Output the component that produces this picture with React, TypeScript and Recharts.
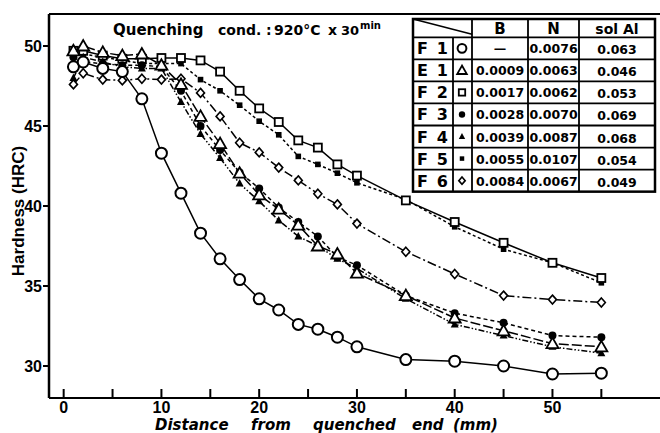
import React from "react";
import { LineChart, Line, XAxis, YAxis, ReferenceLine } from "recharts";

// distance from the quenched end (mm), shared by every steel
const distances = [1, 2, 4, 6, 8, 10, 12, 14, 16, 18, 20, 22, 24, 26, 28, 30, 35, 40, 45, 50, 55];

// hardness (HRC)
const hrcF1 = [48.7, 49.0, 48.6, 48.4, 46.7, 43.3, 40.8, 38.3, 36.7, 35.4, 34.2, 33.5, 32.6, 32.3, 31.8, 31.2, 30.4, 30.3, 30.0, 29.5, 29.55];
const hrcE1 = [49.7, 50.0, 49.6, 49.4, 49.5, 48.8, 47.6, 45.6, 43.9, 42.05, 40.7, 39.8, 38.8, 37.5, 37.0, 35.8, 34.4, 33.0, 32.2, 31.4, 31.2];
const hrcF2 = [49.7, 49.7, 49.4, 49.2, 49.2, 49.25, 49.25, 49.1, 48.4, 47.2, 46.1, 45.25, 44.1, 43.65, 42.6, 41.9, 40.35, 39.0, 37.7, 36.45, 35.5];
const hrcF3 = [49.3, 49.0, 48.9, 48.8, 48.8, 48.7, 47.2, 45.0, 43.5, 42.1, 41.1, 39.9, 39.0, 38.1, 36.8, 36.3, 34.4, 33.3, 32.7, 31.9, 31.8];
const hrcF4 = [48.0, 49.3, 49.0, 48.7, 48.6, 48.6, 46.5, 44.5, 43.0, 41.4, 40.3, 39.1, 38.1, 37.5, 36.7, 36.1, 34.2, 32.6, 31.9, 31.2, 30.8];
const hrcF5 = [49.7, 49.5, 49.3, 49.1, 48.9, 48.9, 48.9, 47.9, 47.2, 46.3, 45.3, 44.45, 43.1, 42.6, 42.05, 41.45, 40.4, 38.7, 37.3, 36.45, 35.2];
const hrcF6 = [47.6, 48.3, 47.9, 47.85, 47.95, 47.9, 47.95, 47.07, 45.6, 43.95, 43.35, 42.4, 41.6, 40.77, 40.1, 38.9, 37.14, 35.75, 34.4, 34.15, 33.97];

// composition table
const steels = ["F 1", "E 1", "F 2", "F 3", "F 4", "F 5", "F 6"];
const boron = ["—", "0.0009", "0.0017", "0.0028", "0.0039", "0.0055", "0.0084"];
const nitrogen = ["0.0076", "0.0063", "0.0062", "0.0070", "0.0087", "0.0107", "0.0067"];
const solAl = ["0.063", "0.046", "0.053", "0.069", "0.068", "0.054", "0.049"];

const xTicks = [0, 5, 10, 15, 20, 25, 30, 35, 40, 45, 50, 55];
const yTicks = [30, 35, 40, 45, 50];

const rows = distances.map((d, i) => ({
  d,
  f1: hrcF1[i],
  e1: hrcE1[i],
  f2: hrcF2[i],
  f3: hrcF3[i],
  f4: hrcF4[i],
  f5: hrcF5[i],
  f6: hrcF6[i],
}));

type Kind = "circle" | "triangle" | "square" | "dot" | "tri" | "box" | "diamond";

const series: { key: string; kind: Kind; dash?: string }[] = [
  { key: "f6", kind: "diamond", dash: "9 3 2 3" },
  { key: "f5", kind: "box", dash: "3 2.5" },
  { key: "f2", kind: "square" },
  { key: "f4", kind: "tri", dash: "6 2 1.5 2 1.5 2" },
  { key: "f3", kind: "dot", dash: "4 3" },
  { key: "e1", kind: "triangle", dash: "10 3" },
  { key: "f1", kind: "circle" },
];
const kinds: Kind[] = ["circle", "triangle", "square", "dot", "tri", "box", "diamond"];

const FONT = "'Liberation Sans', Arial, sans-serif";
const WIDE = "'DejaVu Sans', sans-serif";

function Marker({ kind, cx, cy, s = 1 }: { kind: Kind; cx: number; cy: number; s?: number }) {
  switch (kind) {
    case "circle":
      return <circle cx={cx} cy={cy} r={5.5 * s} fill="#fff" stroke="#000" strokeWidth={2} />;
    case "triangle":
      return (
        <polygon
          points={`${cx},${cy - 6 * s} ${cx - 6 * s},${cy + 4.5 * s} ${cx + 6 * s},${cy + 4.5 * s}`}
          fill="#fff"
          stroke="#000"
          strokeWidth={1.8}
        />
      );
    case "square":
      return <rect x={cx - 4 * s} y={cy - 4 * s} width={8 * s} height={8 * s} fill="#fff" stroke="#000" strokeWidth={1.8} />;
    case "dot":
      return <circle cx={cx} cy={cy} r={4 * s} fill="#000" />;
    case "tri":
      return (
        <polygon
          points={`${cx},${cy - 4.5 * s} ${cx - 4 * s},${cy + 3 * s} ${cx + 4 * s},${cy + 3 * s}`}
          fill="#000"
        />
      );
    case "box":
      return <rect x={cx - 2.8 * s} y={cy - 2.8 * s} width={5.6 * s} height={5.6 * s} fill="#000" />;
    case "diamond":
      return (
        <polygon
          points={`${cx},${cy - 4.5 * s} ${cx + 4 * s},${cy} ${cx},${cy + 4.5 * s} ${cx - 4 * s},${cy}`}
          fill="#fff"
          stroke="#000"
          strokeWidth={1.6}
        />
      );
  }
}

const XTick = (props: any) => {
  const { x, y, payload } = props;
  const v = payload.value as number;
  return (
    <g>
      <line x1={x} x2={x} y1={y} y2={y - 9} stroke="#000" strokeWidth={2} />
      {v % 10 === 0 && (
        <text x={x} y={y + 15} textAnchor="middle" fontFamily={FONT} fontWeight="bold" fontSize={16} fill="#000">
          {v}
        </text>
      )}
    </g>
  );
};

// table layout
const tLeft = 413;
const tRight = 655;
const tTop = 19;
const tHead = 37.3;
const rowH = 22.05;
const cols = [413, 453, 472, 528, 579, 655];

export default function App() {
  return (
    <div style={{ position: "absolute", left: 0, top: 0, width: 660, height: 433, background: "#fff" }}>
      <LineChart width={660} height={433} data={rows} margin={{ top: 14, right: 0, bottom: 0, left: 0 }}>
        <XAxis
          dataKey="d"
          type="number"
          domain={[-1.5, 61]}
          ticks={xTicks}
          allowDataOverflow
          height={35}
          tickSize={0}
          tickMargin={0}
          tickLine={false}
          tick={<XTick />}
          axisLine={{ stroke: "#000", strokeWidth: 2 }}
          interval={0}
        />
        <YAxis
          type="number"
          domain={[28, 52]}
          ticks={yTicks}
          allowDataOverflow
          width={49}
          tickSize={6}
          tickMargin={1}
          interval={0}
          tickLine={{ stroke: "#000", strokeWidth: 2 }}
          axisLine={{ stroke: "#000", strokeWidth: 2.5 }}
          tick={{ fill: "#000", fontFamily: FONT, fontWeight: "bold", fontSize: 16 }}
        />
        <ReferenceLine y={52} stroke="#000" strokeWidth={2} />
        {series.map((s) => (
          <Line
            key={s.key}
            dataKey={s.key}
            type="linear"
            stroke="#000"
            strokeWidth={1.5}
            strokeDasharray={s.dash}
            isAnimationActive={false}
            dot={(p: any) => <Marker key={`${s.key}-${p.index}`} kind={s.kind} cx={p.cx} cy={p.cy} />}
            activeDot={false}
          />
        ))}
      </LineChart>

      <svg width={660} height={433} style={{ position: "absolute", left: 0, top: 0, pointerEvents: "none" }}>
        <text y={35} fontFamily={WIDE} fontWeight="bold" fontSize={14} fill="#000">
          <tspan x={113} fontSize={15}>Quenching</tspan>
          <tspan x={218}>cond.</tspan>
          <tspan x={266}>:</tspan>
          <tspan x={274}>920°C</tspan>
          <tspan x={328}>x</tspan>
          <tspan x={341} fontSize={13}>30</tspan>
          <tspan x={360} fontSize={10} dy={-6}>min</tspan>
        </text>

        <text
          transform="translate(24,211) rotate(-90)"
          textAnchor="middle"
          fontFamily={FONT}
          fontWeight="bold"
          fontSize={17}
          fill="#000"
        >
          Hardness (HRC)
        </text>

        <text y={430} fontFamily={WIDE} fontStyle="italic" fontWeight="bold" fontSize={15} fill="#000">
          <tspan x={155}>Distance</tspan>
          <tspan x={251}>from</tspan>
          <tspan x={313}>quenched</tspan>
          <tspan x={412}>end</tspan>
          <tspan x={453}>(mm)</tspan>
        </text>

        {/* composition table */}
        <rect x={tLeft} y={tTop} width={tRight - tLeft} height={tHead + rowH * 7 - tTop} fill="#fff" stroke="#000" strokeWidth={2.5} />
        <line x1={tLeft} y1={tTop} x2={cols[2]} y2={tHead - 3} stroke="#000" strokeWidth={1.5} />
        {cols.slice(1, 5).map((cx, i) => (
          <line key={`c${i}`} x1={cx} x2={cx} y1={i === 0 ? tHead : tTop} y2={tHead + rowH * 7} stroke="#000" strokeWidth={1.8} />
        ))}
        {steels.map((_, i) => (
          <line key={`r${i}`} x1={tLeft} x2={tRight} y1={tHead + rowH * i} y2={tHead + rowH * i} stroke="#000" strokeWidth={1.8} />
        ))}
        <g fontFamily={WIDE} fontWeight="bold" fill="#000">
          <text x={500} y={34} fontSize={15} textAnchor="middle">B</text>
          <text x={553.5} y={34} fontSize={15} textAnchor="middle">N</text>
          <text x={617} y={34} fontSize={14} textAnchor="middle">sol Al</text>
          {steels.map((st, i) => {
            const cy = tHead + rowH * i + rowH / 2;
            return (
              <g key={st}>
                <text x={417} y={cy + 6} fontSize={16}>{st[0]}</text>
                <text x={448} y={cy + 6} fontSize={16} textAnchor="end">{st[2]}</text>
                <Marker kind={kinds[i]} cx={462} cy={cy} s={0.8} />
                <text x={500} y={cy + 5} fontSize={12.5} textAnchor="middle">{boron[i]}</text>
                <text x={553.5} y={cy + 5} fontSize={12.5} textAnchor="middle">{nitrogen[i]}</text>
                <text x={617} y={cy + 6} fontSize={12.5} textAnchor="middle">{solAl[i]}</text>
              </g>
            );
          })}
        </g>
      </svg>
    </div>
  );
}
